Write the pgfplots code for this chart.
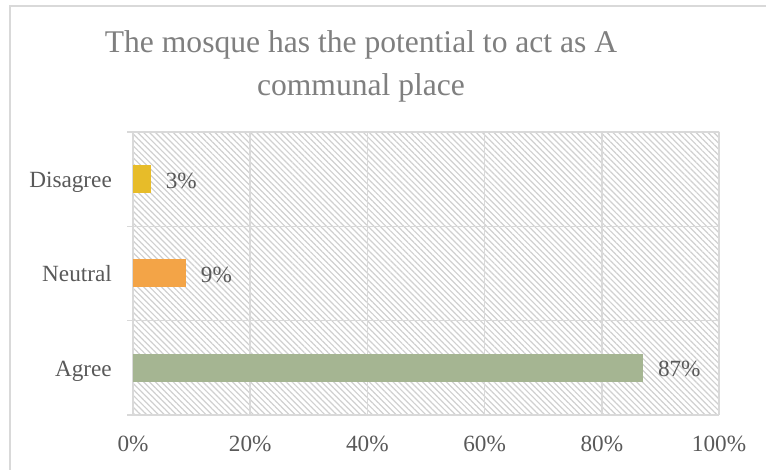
\documentclass[border=0pt]{standalone}
\usepackage{pgfplots}
\pgfplotsset{compat=1.18}
\usetikzlibrary{patterns.meta}
\usepackage{fontspec}
\setmainfont{Liberation Serif}
\definecolor{gridc}{HTML}{D9D9D9}
\definecolor{txt}{HTML}{595959}
\definecolor{ttl}{HTML}{7F7F7F}
\definecolor{hatch}{HTML}{D0D0D0}
\definecolor{agree}{HTML}{A5B592}
\definecolor{neutral}{HTML}{F3A447}
\definecolor{disagree}{HTML}{E7BC29}
\begin{document}
\begin{tikzpicture}[x=1bp,y=1bp]
\useasboundingbox (0,0) rectangle (766,470);
\fill[white] (0,0) rectangle (766,470);
\draw[gridc, line width=1.5bp] (10,0) -- (10,464) -- (766,464);
\node[ttl, font=\fontsize{31.7}{40}\selectfont, anchor=base, inner sep=0pt] at (361,417) {The mosque has the potential to act as A};
\node[ttl, font=\fontsize{31.7}{40}\selectfont, anchor=base, inner sep=0pt] at (361,374) {communal place};
\begin{axis}[
  at={(133bp,55bp)}, anchor=south west,
  scale only axis, width=586bp, height=283bp,
  xmin=0, xmax=100, ymin=0.5, ymax=3.5,
  xbar, bar width=28bp, clip=false,
  axis line style={draw=none},
  axis background/.style={pattern={Lines[angle=-45,distance=4.2bp,line width=1.2bp]}, pattern color=hatch},
  xtick={0,20,40,60,80,100},
  xticklabels={0\%,20\%,40\%,60\%,80\%,100\%},
  xtick pos=bottom, ytick pos=left,
  xmajorgrids,
  major grid style={gridc, line width=1.5bp},
  ytick={1,2,3},
  yticklabels={Agree,Neutral,Disagree},
  minor ytick={0.5,1.5,2.5,3.5},
  yminorgrids,
  minor grid style={gridc, line width=1.5bp},
  tick align=outside,
  major tick length=0pt,
  minor tick length=6bp,
  xtick style={draw=none},
  ytick style={gridc, line width=1.5bp},
  ticklabel style={font=\fontsize{23.3}{27}\selectfont, text=txt},
  x tick label style={anchor=base, yshift=-37bp, inner sep=0pt},
  y tick label style={anchor=base east, yshift=-8.5bp, xshift=-21bp, inner sep=0pt},
  every node near coord/.append style={anchor=base west, xshift=15bp, yshift=-9bp, inner sep=0pt, font=\fontsize{23.3}{27}\selectfont, text=txt},
]
\addplot[fill=agree, draw=none, bar shift=0pt, nodes near coords={87\%}] coordinates {(87,1)};
\addplot[fill=neutral, draw=none, bar shift=0pt, nodes near coords={9\%}] coordinates {(9,2)};
\addplot[fill=disagree, draw=none, bar shift=0pt, nodes near coords={3\%}] coordinates {(3,3)};
\end{axis}
\end{tikzpicture}
\end{document}
